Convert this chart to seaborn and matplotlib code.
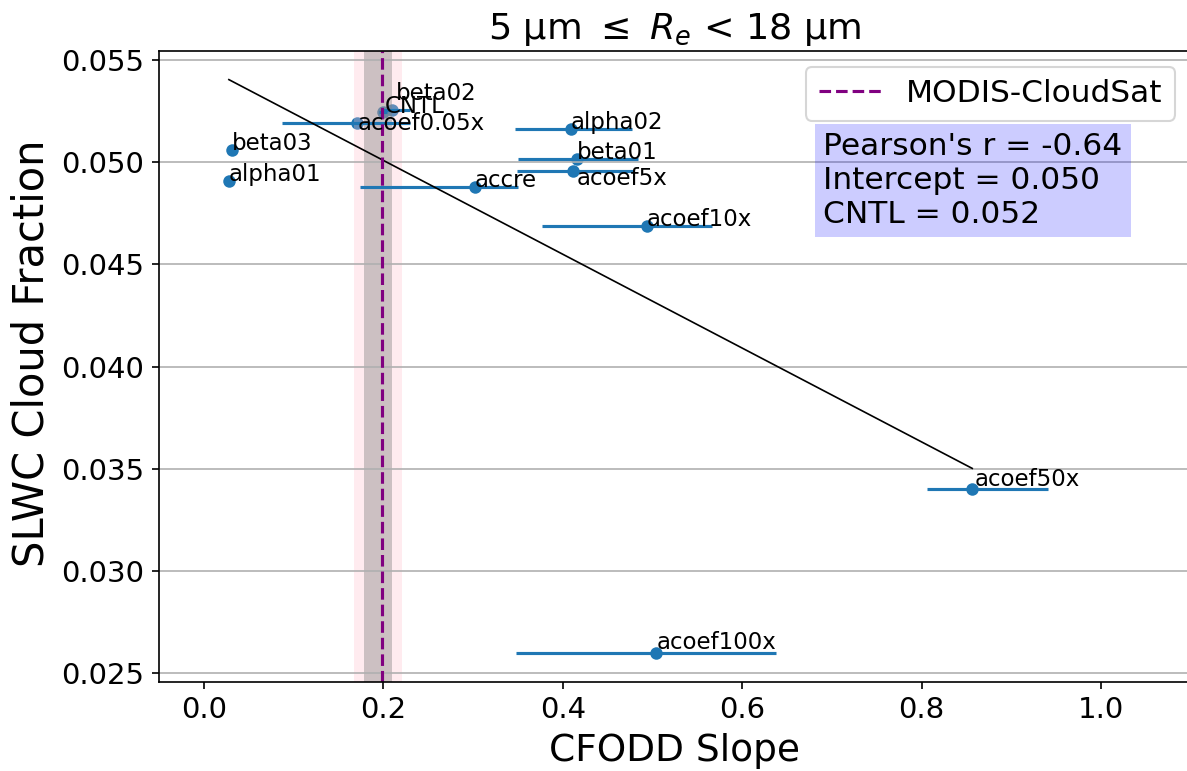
"""
plot.py

CFODD slope vs SLWC cloud fraction for the sensitivity runs
"""

import matplotlib
matplotlib.use("Agg")
import matplotlib.pyplot as plt
import seaborn as sns
import numpy as np

# --- data ---
names = ["CNTL", "beta02", "acoef0.05x", "beta03", "alpha01", "accre",
         "alpha02", "beta01", "acoef5x", "acoef10x", "acoef50x", "acoef100x"]
slope = [0.1996, 0.2096, 0.1702, 0.0316, 0.0279, 0.3021,
         0.4091, 0.4155, 0.4110, 0.4935, 0.8565, 0.5036]
slope_lo = [0.1956, 0.1996, 0.0866, 0.0286, 0.0249, 0.1739,
            0.3467, 0.3504, 0.3486, 0.3765, 0.8057, 0.3478]
slope_hi = [0.2036, 0.2297, 0.2300, 0.0346, 0.0309, 0.3504,
            0.4768, 0.4842, 0.4786, 0.5660, 0.9412, 0.6377]
slwc_cf = [0.05247, 0.05255, 0.05193, 0.05062, 0.04908, 0.04880,
           0.05161, 0.05014, 0.04958, 0.04689, 0.03402, 0.02598]

# MODIS-CloudSat observed slope and its spread
obs_slope = 0.199
obs_inner = (0.1786, 0.2100)
obs_outer = (0.1670, 0.2210)

# label nudges (points), everything else sits right on the marker
label_offsets = {
    "CNTL": (1, -0.5),
    "beta02": (2, 5),
    "acoef0.05x": (0.5, -3.5),
    "acoef5x": (2, -7),
    "acoef50x": (1, 1.5),
    "acoef100x": (0.5, 2),
}


def main() -> None:
    x = np.array(slope)
    y = np.array(slwc_cf)
    xerr = np.vstack([x - np.array(slope_lo), np.array(slope_hi) - x])

    fig = plt.figure(figsize=(1187 / 150, 771 / 150), dpi=150)
    ax = fig.add_axes([0.13395, 0.11582, 0.86917, 0.81803])

    # points + x error bars
    ax.errorbar(x, y, xerr=xerr, fmt="none", ecolor="tab:blue", elinewidth=1.5)
    sns.scatterplot(x=x, y=y, ax=ax, color="tab:blue", s=36, linewidth=0)

    # least squares fit across the runs
    sns.regplot(x=x, y=y, ax=ax, scatter=False, ci=None, truncate=True,
                color="black", line_kws={"lw": 0.8})

    # observation
    ax.axvspan(*obs_outer, color="pink", alpha=0.3, lw=0)
    ax.axvspan(*obs_inner, color="gray", alpha=0.4, lw=0)
    ax.axvline(obs_slope, color="purple", ls="--", lw=1.5, label="MODIS-CloudSat")

    for name, xi, yi in zip(names, x, y):
        dx, dy = label_offsets.get(name, (0, 0))
        ax.annotate(name, (xi, yi), xytext=(dx, dy), textcoords="offset points",
                    fontsize=11, ha="left", va="baseline")

    r = np.corrcoef(x, y)[0, 1]
    fit = np.polyfit(x, y, 1)
    stats = (f"Pearson's r = {r:.2f}\n"
             f"Intercept = {np.polyval(fit, obs_slope):.3f}\n"
             f"CNTL = {slwc_cf[names.index('CNTL')]:.3f}")
    ax.text(0.644, 0.871, stats, transform=ax.transAxes, fontsize=15,
            va="top", ha="left",
            bbox=dict(facecolor="blue", alpha=0.2, edgecolor="none"))

    ax.set_xlim(-0.05, 1.1)
    ax.set_ylim(0.02459, 0.05544)
    ax.set_xticks([0.0, 0.2, 0.4, 0.6, 0.8, 1.0])
    ax.set_yticks([0.025, 0.030, 0.035, 0.040, 0.045, 0.050, 0.055])
    ax.grid(axis="y")
    ax.tick_params(labelsize=14)

    ax.set_xlabel("CFODD Slope", fontsize=18)
    ax.set_ylabel("SLWC Cloud Fraction", fontsize=20)
    ax.yaxis.label.set_y(0.52)
    ax.set_title(r"5 µm $\leq$ $R_e$ < 18 µm", fontsize=17.5)
    ax.legend(loc="upper right", fontsize=15)

    fig.savefig("out.png", dpi=150)
    plt.close(fig)


if __name__ == "__main__":
    main()
